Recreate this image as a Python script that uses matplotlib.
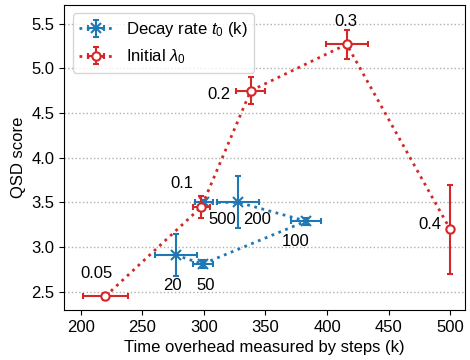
import matplotlib
matplotlib.use('Agg')
from matplotlib import pyplot as plt

plt.rcParams['font.family'] = ['Liberation Sans', 'DejaVu Sans']
plt.rcParams['mathtext.fontset'] = 'custom'
plt.rcParams['mathtext.rm'] = 'Liberation Sans'
plt.rcParams['mathtext.it'] = 'Liberation Sans:italic'

# Decay rate t0 (k)
decay_labels = ['20', '50', '100', '200', '500']
decay_x = [277, 299, 383, 328, 300]
decay_xerr = [17, 8, 12, 17, 7]
decay_y = [2.91, 2.81, 3.29, 3.50, 3.50]
decay_yerr = [0.24, 0.04, 0.04, 0.29, 0.03]

# Initial lambda0
init_labels = ['0.05', '0.1', '0.2', '0.3', '0.4']
init_x = [220, 298, 338, 416, 500]
init_xerr = [18, 7, 12, 17, 0]
init_y = [2.45, 3.45, 4.75, 5.27, 3.20]
init_yerr = [0.04, 0.12, 0.15, 0.16, 0.50]

# label offsets in pixels (layout only)
decay_off = [(-3, -30), (3, -22), (-10, -20), (19, -17), (18, -17)]
init_off = [(-9, 23), (-20, 23), (-32, -4), (-1, 23), (-20, 5)]

blue = '#1f77b4'
red = '#d62728'
fs = 12

fig = plt.figure(figsize=(4.7, 3.6), dpi=100)
ax = fig.add_axes([0.137, 0.139, 0.852, 0.847])

ax.errorbar(decay_x, decay_y, xerr=decay_xerr, yerr=decay_yerr, color=blue,
            ls=':', lw=2, marker='x', ms=7, mew=1.5, elinewidth=1.5,
            capsize=2.5, capthick=1.5, label='Decay rate $t_0$ (k)', zorder=2)
ax.errorbar(init_x, init_y, xerr=init_xerr, yerr=init_yerr, color=red,
            ls=':', lw=2, marker='o', ms=6, mfc='white', mew=1.5,
            elinewidth=1.5, capsize=2.5, capthick=1.5,
            label='Initial $\\lambda_0$', zorder=3)

for lab, x, y, off in zip(decay_labels, decay_x, decay_y, decay_off):
    ax.annotate(lab, (x, y), xytext=off, textcoords='offset pixels',
                ha='center', va='center', fontsize=fs)
for lab, x, y, off in zip(init_labels, init_x, init_y, init_off):
    ax.annotate(lab, (x, y), xytext=off, textcoords='offset pixels',
                ha='center', va='center', fontsize=fs)

ax.set_xlim(186.6, 512)
ax.set_ylim(2.295, 5.71)
ax.set_xticks([200, 250, 300, 350, 400, 450, 500])
ax.set_yticks([2.5, 3.0, 3.5, 4.0, 4.5, 5.0, 5.5])
ax.yaxis.grid(True, ls=':', color='#b0b0b0', lw=1)
ax.set_axisbelow(True)
ax.tick_params(labelsize=fs)
ax.set_xlabel('Time overhead measured by steps (k)', fontsize=fs)
ax.set_ylabel('QSD score', fontsize=fs)
ax.legend(loc='upper left', fontsize=fs)

fig.savefig('out.png', dpi=100)
